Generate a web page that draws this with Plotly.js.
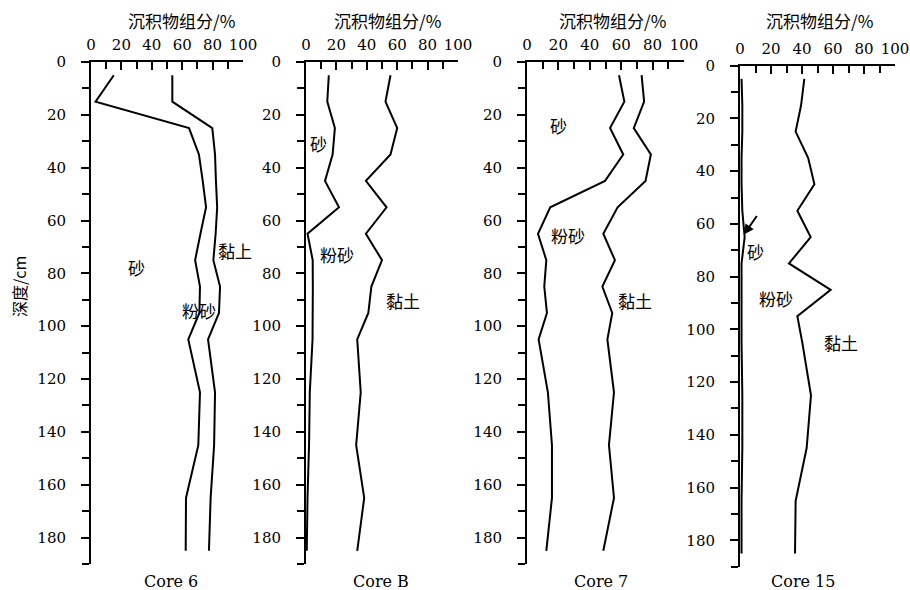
<!DOCTYPE html>
<html><head><meta charset="utf-8">
<script src="https://cdn.plot.ly/plotly-3.0.1.min.js"></script>
<style>body{margin:0;background:#fff}#chart{width:910px;height:590px}</style>
</head><body><div id="chart"></div>
<script>
// Sample depths (cm)
const depth = [5,15,25,35,45,55,65,75,85,95,105,125,145,165,185];
// Cumulative percentages: boundary sand|silt and silt|clay
const core6Sand    = [15,3,64.5,71,73.5,75.7,72,68.5,71.7,71.3,64,71.7,70.6,62.5,62.3];
const core6SandSilt= [53.5,53.5,79.8,81.6,82.2,83,82,80.5,84.9,84.2,77,81.6,81,78.7,77.6];
const coreBSand    = [15,14,19,17.5,12.5,21.7,1,4.4,4.5,4.5,4.3,2.5,2,1,0.5];
const coreBSandSilt= [55.6,52.3,60,55.6,39.4,53,39.4,50,43,41,33.7,36,33,38.3,33.7];
const core7Sand    = [58.6,62,52.9,61.3,49.7,14.8,7,12.3,11,12.7,7.4,13.3,15.9,15.9,12.3];
const core7SandSilt= [73,74.6,68,78.9,75.5,57.7,48.6,56,48,54.3,51.2,55.4,52.2,55.4,48.6];
const core15Sand   = [1,1.5,1.5,1,1,1.5,3,1,1,1,1,1.5,1.5,1,1];
const core15SandSilt=[41.5,39.4,35.9,44,48,37,45.6,31.6,58.5,37,40.2,45.8,43,35.9,35.5];
const coreNames = ["Core 6","Core B","Core 7","Core 15"];
const xTitle = "沉积物组分/%";
const yTitle = "深度/cm";
const labelSand = "砂", labelSilt = "粉砂", labelClay = "黏土", labelClay6 = "黏上";

const FONT = "'DejaVu Serif', serif";
const CJK = "'Noto Sans CJK SC', sans-serif";
const series = [[core6Sand,core6SandSilt],[coreBSand,coreBSandSilt],[core7Sand,core7SandSilt],[core15Sand,core15SandSilt]];
const traces = [];
series.forEach((s,i)=>{
  const sfx = i===0 ? "" : String(i+1);
  s.forEach(v=>traces.push({x:v,y:depth,type:"scatter",mode:"lines",
    line:{color:"#000",width:2},xaxis:"x"+sfx,yaxis:"y"+sfx,showlegend:false,hoverinfo:"skip"}));
});

const W=910,H=590;
const xd = [[91,243],[306,458],[527,684],[740,895]];
const yd = [[62,564],[62,564],[62,564],[65.7,566.7]];
const layout = {width:W,height:H,margin:{l:0,r:0,t:0,b:0},paper_bgcolor:"#fff",plot_bgcolor:"rgba(0,0,0,0)",
  font:{family:FONT,size:15,color:"#000"},showlegend:false,annotations:[]};
for(let i=0;i<4;i++){
  const sfx = i===0 ? "" : String(i+1);
  layout["xaxis"+sfx] = {domain:[xd[i][0]/W,xd[i][1]/W],range:[0,100],side:"top",anchor:"y"+sfx,
    showgrid:false,zeroline:false,showline:true,linecolor:"#000",linewidth:2,
    ticks:"inside",ticklen:8,tickwidth:2,tickcolor:"#000",dtick:20,tick0:0,
    minor:{dtick:10,ticks:"inside",ticklen:7,tickwidth:2,tickcolor:"#000"},
    ticklabelstandoff:4,
    tickfont:{family:FONT,size:15},fixedrange:true};
  layout["yaxis"+sfx] = {domain:[1-yd[i][1]/H,1-yd[i][0]/H],range:[190,0],anchor:"x"+sfx,
    showgrid:false,zeroline:false,showline:true,linecolor:"#000",linewidth:2,
    ticks:"outside",ticklen:8,tickwidth:2,tickcolor:"#000",dtick:20,tick0:0,
    minor:{dtick:10,ticks:"outside",ticklen:7,tickwidth:2,tickcolor:"#000"},
    ticklabelstandoff:12,
    tickfont:{family:FONT,size:15},fixedrange:true};
}
const titleX=[181,387,612,819];
const coreX=[171,381,601,803];
titleX.forEach((x,i)=>layout.annotations.push({xref:"paper",yref:"paper",x:x/W,y:1-21/H,text:xTitle,
  showarrow:false,font:{family:CJK,size:17},xanchor:"center",yanchor:"middle"}));
coreX.forEach((x,i)=>layout.annotations.push({xref:"paper",yref:"paper",x:x/W,y:1-581/H,text:coreNames[i],
  showarrow:false,font:{family:FONT,size:16},xanchor:"center",yanchor:"middle"}));
layout.annotations.push({xref:"paper",yref:"paper",x:19/W,y:1-287/H,text:yTitle,textangle:-90,
  showarrow:false,font:{family:CJK,size:16},xanchor:"center",yanchor:"middle"});
// In-plot labels (pixel positions converted to paper)
const lbl = [[136,268,labelSand],[235,250,labelClay6],[199,310,labelSilt],
  [318,143,labelSand],[337,255,labelSilt],[403,300,labelClay],
  [558,125,labelSand],[568,235,labelSilt],[635,300,labelClay],
  [755,251,labelSand],[776,298,labelSilt],[841,342,labelClay]];
lbl.forEach(l=>layout.annotations.push({xref:"paper",yref:"paper",x:l[0]/W,y:1-l[1]/H,text:l[2],
  showarrow:false,font:{family:CJK,size:17},xanchor:"center",yanchor:"middle"}));
// arrow pointing to sand line in Core 15
layout.annotations.push({xref:"x4",yref:"y4",x:2.5,y:64,ax:14,ay:-20,text:"",showarrow:true,
  arrowhead:2,arrowsize:1,arrowwidth:2,arrowcolor:"#000"});
Plotly.newPlot("chart",traces,layout,{staticPlot:true});
</script></body></html>
